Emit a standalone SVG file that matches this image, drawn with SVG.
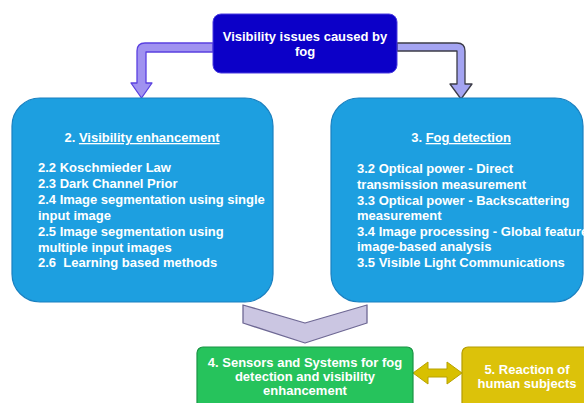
<svg xmlns="http://www.w3.org/2000/svg" width="584" height="403" viewBox="0 0 584 403">
<style>
  .t { font-family: "Liberation Sans", Arial, sans-serif; font-weight: bold; font-size: 13px; fill: #ffffff; }
  .c { text-anchor: middle; }
  .blue { fill: #1d9fe0; stroke: #1a80c0; stroke-width: 1.2; }
  .u { text-decoration: underline; }
</style>
<rect width="584" height="403" fill="#ffffff"/>
<g id="connectors">
  <path d="M213,43 H145 Q137,43 137,51 V83 H131 L141.5,98 L152,83 H146 V52 H213 Z" fill="#a092f0" stroke="#5a40e0" stroke-width="1.3" stroke-linejoin="round"/>
  <path d="M397,43 H457 Q465,43 465,51 V84 H472 L461,99 L450,84 H457 V51 H397 Z" fill="#a4a4f2" stroke="#3c3c48" stroke-width="1.3" stroke-linejoin="round"/>
  <path d="M243,305 L305,323 L367,305 V323 L305,343 L243,323 Z" fill="#cbc6e2" stroke="#6e6894" stroke-width="1.3" stroke-linejoin="round"/>
  <path d="M413,373 L428,362 V369 H447 V362 L462,373 L447,384 V377 H428 V384 Z" fill="#d8c000" stroke="#b8a200" stroke-width="1" stroke-linejoin="round"/>
</g>
<g id="node-fog">
  <rect x="213" y="14" width="184" height="59" rx="8" fill="#0c00c8" stroke="#4a3ce0" stroke-width="1"/>
  <text class="t c" x="305" y="41">Visibility issues caused by</text>
  <text class="t c" x="305" y="56">fog</text>
</g>
<g id="node-visibility">
  <rect class="blue" x="12" y="98" width="261" height="204" rx="28"/>
  <text class="t c" x="142" y="142">2. <tspan class="u">Visibility enhancement</tspan></text>
  <text class="t" x="38" y="172">2.2 Koschmieder Law</text>
  <text class="t" x="38" y="188">2.3 Dark Channel Prior</text>
  <text class="t" x="38" y="204">2.4 Image segmentation using single</text>
  <text class="t" x="38" y="220">input image</text>
  <text class="t" x="38" y="236">2.5 Image segmentation using</text>
  <text class="t" x="38" y="252">multiple input images</text>
  <text class="t" x="38" y="267" xml:space="preserve">2.6  Learning based methods</text>
</g>
<g id="node-fogdetection">
  <rect class="blue" x="331" y="98" width="252" height="204" rx="28"/>
  <text class="t c" x="461" y="142">3. <tspan class="u">Fog detection</tspan></text>
  <text class="t" x="357" y="173">3.2 Optical power - Direct</text>
  <text class="t" x="357" y="189">transmission measurement</text>
  <text class="t" x="357" y="205">3.3 Optical power - Backscattering</text>
  <text class="t" x="357" y="220">measurement</text>
  <text class="t" x="357" y="236">3.4 Image processing - Global feature</text>
  <text class="t" x="357" y="251">image-based analysis</text>
  <text class="t" x="357" y="267">3.5 Visible Light Communications</text>
</g>
<g id="node-sensors">
  <rect x="197" y="347" width="216" height="62" rx="6" fill="#26c35c" stroke="#1a9444" stroke-width="1.2"/>
  <text class="t c" x="305" y="367">4. Sensors and Systems for fog</text>
  <text class="t c" x="305" y="381">detection and visibility</text>
  <text class="t c" x="305" y="395">enhancement</text>
</g>
<g id="node-reaction">
  <rect x="462" y="347" width="130" height="62" rx="6" fill="#dcc20a" stroke="#b49c00" stroke-width="1.2"/>
  <text class="t c" x="527" y="374">5. Reaction of</text>
  <text class="t c" x="527" y="388">human subjects</text>
</g>
</svg>
